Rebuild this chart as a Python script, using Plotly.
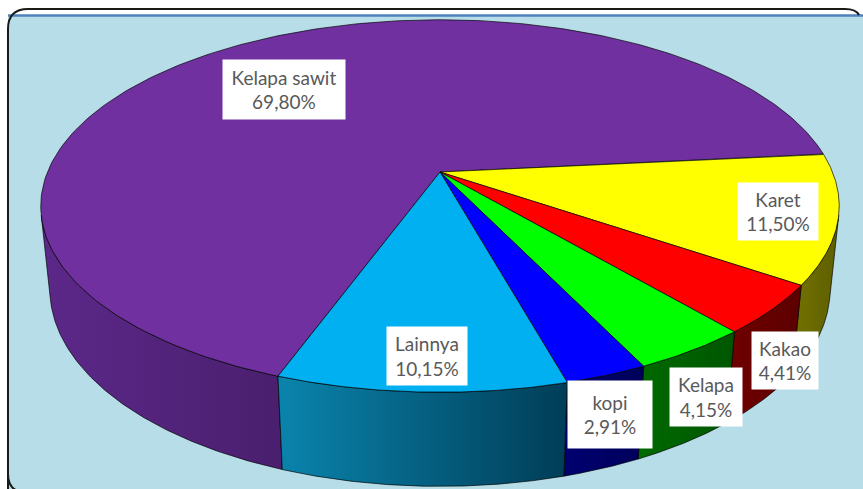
import numpy as np
import plotly.graph_objects as go

# ---------------- data ----------------
CATEGORIES = ["Kelapa sawit", "Karet", "Kakao", "Kelapa", "kopi", "Lainnya"]
VALUES = [69.80, 11.50, 4.41, 4.15, 2.91, 10.15]
PCT_LABELS = ["69,80%", "11,50%", "4,41%", "4,15%", "2,91%", "10,15%"]

# ---------------- styles ----------------
TOP_COLORS = ["#7030a0", "#ffff00", "#ff0000", "#00ff00", "#0000ff", "#00b0f0"]
WALL_COLORS = [("#5c2889", "#4a1f6e"), ("#737300", "#5e5e00"), ("#700000", "#5c0000"),
               ("#006a00", "#005600"), ("#000070", "#00005a"), ("#0a84ad", "#003d57")]
# label box: centre (px), size (px)
LABEL_BOX = [(284, 89, 122, 59), (778, 211, 80, 57), (785, 360, 66, 57),
             (706, 397, 72, 58), (610, 414, 84, 67), (427, 356, 80, 58)]

W, H_PX = 863, 489
CX, CY = 440, 172            # pixel position of pie centre
START_DEG = -110.0           # first slice starts here (math angle), goes clockwise

# perspective camera parameters
TILT = np.radians(27.3)
S, C = np.sin(TILT), np.cos(TILT)
DIST = 4.866
FOC = 1910.0
THICK = 0.241


def proj(X, Y, Z):
    up = Z * C + Y * S
    fwd = Y * C - Z * S + DIST
    return FOC * X / fwd, FOC * up / fwd


# visible wall range (tangent from camera's horizontal position)
cam_y = -DIST * C
vis_lim = np.degrees(np.arcsin(1.0 / cam_y))  # negative angle
VIS_LO = -180.0 - vis_lim
VIS_HI = vis_lim

total = sum(VALUES)
spans = [v / total * 360.0 for v in VALUES]

fig = go.Figure()

bounds = []
a = START_DEG
for sp in spans:
    bounds.append((a - sp, a))  # (low, high) in degrees
    a -= sp

# walls
for i, (lo, hi) in enumerate(bounds):
    for k in (-2, -1, 0, 1):
        l2, h2 = lo + 360 * k, hi + 360 * k
        wl, wh = max(l2, VIS_LO), min(h2, VIS_HI)
        if wh - wl <= 0.01:
            continue
        th = np.radians(np.linspace(wl, wh, 120))
        xt, yt = proj(np.cos(th), np.sin(th), 0.0)
        xb, yb = proj(np.cos(th), np.sin(th), -THICK)
        xs = np.concatenate([xt, xb[::-1], xt[:1]])
        ys = np.concatenate([yt, yb[::-1], yt[:1]])
        c1, c2 = WALL_COLORS[i]
        fig.add_trace(go.Scatter(
            x=xs, y=ys, mode="lines", fill="toself",
            fillgradient=dict(type="horizontal", colorscale=[[0, c1], [1, c2]]),
            line=dict(color="rgba(0,0,0,0.85)", width=0.8),
            hoverinfo="skip", showlegend=False))

# tops
for i, (lo, hi) in enumerate(bounds):
    th = np.radians(np.linspace(hi, lo, 240))
    xa, ya = proj(np.cos(th), np.sin(th), 0.0)
    xs = np.concatenate([[0.0], xa, [0.0]])
    ys = np.concatenate([[0.0], ya, [0.0]])
    fig.add_trace(go.Scatter(
        x=xs, y=ys, mode="lines", fill="toself", fillcolor=TOP_COLORS[i],
        line=dict(color="rgba(0,0,0,0.85)", width=0.8),
        hoverinfo="skip", showlegend=False, name=CATEGORIES[i]))

# labels
annotations = []
for i, cat in enumerate(CATEGORIES):
    px, py, bw, bh = LABEL_BOX[i]
    annotations.append(dict(
        x=px - CX, y=CY - py, xref="x", yref="y", showarrow=False,
        text=f"{cat}<br>{PCT_LABELS[i]}", align="center",
        bgcolor="white", borderpad=0, width=bw, height=bh,
        font=dict(family="Lato, 'Open Sans', sans-serif", size=19, color="#595959")))


def px_(x):
    return x / W


def py_(y):
    return 1 - y / H_PX


shapes = [
    dict(type="rect", xref="paper", yref="paper", x0=px_(8), x1=px_(870), y0=py_(15), y1=py_(500),
         fillcolor="#b7dee8", line=dict(width=0), layer="below"),
    dict(type="line", xref="paper", yref="paper", x0=px_(8), x1=px_(863), y0=py_(15.5), y1=py_(15.5),
         line=dict(color="#4f81bd", width=2.5), layer="below"),
    dict(type="path", xref="paper", yref="paper", layer="above",
         path=(f"M {px_(8)},{py_(500)} L {px_(8)},{py_(29)} Q {px_(8)},{py_(9)} {px_(28)},{py_(9)} "
               f"L {px_(845)},{py_(9)} Q {px_(856)},{py_(9)} {px_(859)},{py_(15)}"),
         line=dict(color="#1a1a1a", width=2)),
    dict(type="path", xref="paper", yref="paper", layer="above",
         path=(f"M {px_(8)},{py_(474)} Q {px_(8)},{py_(490)} {px_(22)},{py_(492)}"),
         line=dict(color="#1a1a1a", width=2)),
]

fig.update_layout(
    width=W, height=H_PX, margin=dict(l=0, r=0, t=0, b=0),
    paper_bgcolor="white", plot_bgcolor="rgba(0,0,0,0)",
    xaxis=dict(range=[-CX, W - CX], visible=False, fixedrange=True),
    yaxis=dict(range=[CY - H_PX, CY], visible=False, fixedrange=True),
    annotations=annotations, shapes=shapes, showlegend=False,
)

fig.write_html("out.html", config={"displayModeBar": False},
               post_script="document.body.style.margin='0px';document.body.style.overflow='hidden';")
